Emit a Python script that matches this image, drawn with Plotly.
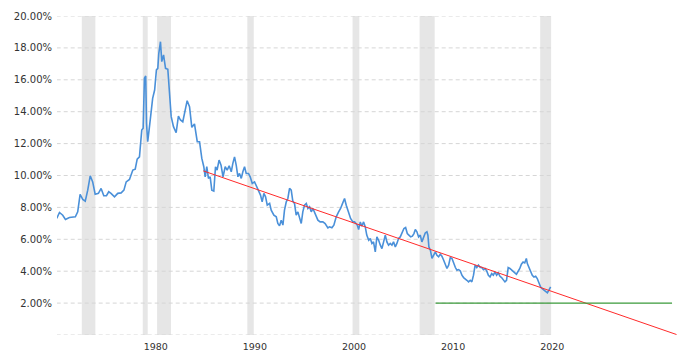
import plotly.graph_objects as go

# 30-year fixed mortgage rate (%), x in decimal years
years = [
    1971.32, 1971.6, 1971.93, 1972.2, 1972.6, 1973.2, 1973.44, 1973.68, 1973.95, 1974.2,
    1974.45, 1974.7, 1974.95, 1975.2, 1975.53, 1975.8, 1976.07, 1976.34, 1976.57, 1976.8,
    1977.15, 1977.48, 1977.82, 1978.1, 1978.33, 1978.66, 1979.0, 1979.24, 1979.44, 1979.67,
    1979.9, 1980.04, 1980.17, 1980.3, 1980.38, 1980.5, 1980.68, 1980.85, 1981.0, 1981.2,
    1981.38, 1981.52, 1981.62, 1981.79, 1981.92, 1982.1, 1982.3, 1982.53, 1982.7, 1982.87,
    1983.1, 1983.37, 1983.6, 1983.8, 1984.04, 1984.2, 1984.48, 1984.72, 1984.95, 1985.22,
    1985.5, 1985.73, 1985.96, 1986.16, 1986.3, 1986.46, 1986.63, 1986.8, 1986.97, 1987.17,
    1987.34, 1987.5, 1987.7, 1987.9, 1988.1, 1988.32, 1988.52, 1988.72, 1988.93, 1989.09,
    1989.26, 1989.43, 1989.6, 1989.76, 1989.94, 1990.1, 1990.27, 1990.44, 1990.67, 1990.84,
    1991.05, 1991.28, 1991.48, 1991.68, 1991.88, 1992.05, 1992.22, 1992.39, 1992.56, 1992.8,
    1992.96, 1993.23, 1993.47, 1993.63, 1993.8, 1993.97, 1994.14, 1994.3, 1994.48, 1994.64,
    1994.81, 1994.98, 1995.14, 1995.31, 1995.48, 1995.65, 1995.82, 1995.99, 1996.15, 1996.32,
    1996.5, 1996.66, 1996.83, 1997.0, 1997.17, 1997.33, 1997.5, 1997.67, 1997.9, 1998.17,
    1998.4, 1998.68, 1998.85, 1999.08, 1999.28, 1999.52, 1999.76, 1999.96, 2000.16, 2000.36,
    2000.53, 2000.77, 2000.97, 2001.2, 2001.37, 2001.64, 2001.78, 2001.95, 2002.1, 2002.28,
    2002.45, 2002.6, 2002.8, 2002.96, 2003.12, 2003.28, 2003.46, 2003.62, 2003.8, 2003.97,
    2004.13, 2004.3, 2004.47, 2004.63, 2004.8, 2004.97, 2005.14, 2005.3, 2005.48, 2005.64,
    2005.81, 2005.98, 2006.14, 2006.35, 2006.52, 2006.69, 2006.85, 2007.03, 2007.2, 2007.36,
    2007.5, 2007.66, 2007.83, 2008.0, 2008.16, 2008.34, 2008.5, 2008.67, 2008.77, 2008.87,
    2009.02, 2009.18, 2009.35, 2009.52, 2009.68, 2009.85, 2010.02, 2010.18, 2010.36, 2010.53,
    2010.69, 2010.86, 2011.03, 2011.2, 2011.37, 2011.54, 2011.7, 2011.87, 2012.04, 2012.2,
    2012.37, 2012.54, 2012.7, 2012.87, 2013.04, 2013.2, 2013.37, 2013.53, 2013.7, 2013.87,
    2014.04, 2014.2, 2014.37, 2014.54, 2014.7, 2014.87, 2015.04, 2015.2, 2015.37, 2015.54,
    2015.7, 2015.87, 2016.04, 2016.2, 2016.37, 2016.54, 2016.7, 2016.87, 2017.04, 2017.2,
    2017.37, 2017.54, 2017.7, 2017.87, 2018.04, 2018.2, 2018.37, 2018.54, 2018.7, 2018.8,
    2019.0, 2019.14, 2019.3, 2019.47, 2019.64, 2019.8, 2019.97, 2020.14, 2020.3, 2020.48,
    2020.65, 2020.82, 2020.98, 2021.15,
]
rates = [
    7.31, 7.68, 7.51, 7.24, 7.37, 7.41, 7.72, 8.81, 8.5, 8.39,
    9.08, 9.98, 9.6, 8.83, 8.88, 9.19, 8.73, 8.73, 8.98, 8.88,
    8.66, 8.88, 8.91, 9.08, 9.6, 9.75, 10.34, 10.4, 11.03, 11.17,
    12.85, 12.96, 16.1, 16.24, 13.27, 12.12, 13.06, 14.1, 14.84, 15.36,
    16.62, 16.72, 17.66, 18.39, 17.14, 17.56, 16.72, 16.66, 15.36, 13.69,
    13.06, 12.68, 13.73, 13.48, 13.37, 13.79, 14.69, 14.31, 13.02, 13.23,
    12.12, 12.12, 11.07, 10.55, 9.92, 10.55, 9.82, 9.92, 9.08, 9.02,
    10.55, 10.34, 10.97, 10.65, 9.92, 10.55, 10.34, 10.61, 10.23, 10.76,
    11.17, 10.65, 9.92, 10.13, 9.82, 10.23, 10.55, 10.13, 10.13, 9.92,
    9.5, 9.6, 9.29, 8.98, 8.77, 8.35, 8.88, 8.66, 8.14, 8.25,
    7.83, 7.51, 7.41, 6.99, 6.84, 7.2, 6.89, 7.83, 8.35, 8.56,
    9.19, 9.08, 8.39, 8.25, 7.51, 7.72, 7.41, 6.99, 7.72, 8.14,
    8.25, 7.93, 8.04, 7.72, 7.93, 7.72, 7.51, 7.2, 7.09, 7.09,
    6.99, 6.72, 6.78, 6.72, 6.89, 7.41, 7.72, 7.93, 8.25, 8.56,
    8.14, 7.72, 7.31, 7.09, 7.09, 6.89, 6.61, 7.09, 6.82, 7.09,
    6.78, 6.26, 5.94, 6.05, 5.74, 5.84, 5.21, 6.15, 5.94, 5.63,
    5.42, 5.84, 6.26, 5.84, 5.63, 5.74, 5.63, 5.84, 5.52, 5.74,
    6.05, 6.15, 6.36, 6.68, 6.74, 6.36, 6.26, 6.15, 6.2, 6.36,
    6.61, 6.47, 6.15, 6.26, 5.84, 6.15, 6.4, 6.47, 6.26, 5.52,
    5.32, 4.8, 5.0, 5.21, 5.0, 4.9, 5.07, 4.94, 4.69, 4.38,
    4.17, 4.38, 4.86, 4.8, 4.48, 4.23, 4.06, 4.1, 4.02, 3.75,
    3.6, 3.54, 3.43, 3.33, 3.43, 3.33, 3.75, 4.38, 4.23, 4.38,
    4.23, 4.23, 4.1, 4.17, 4.02, 3.75, 3.64, 3.85, 3.75, 3.96,
    3.75, 3.89, 3.68, 3.6, 3.43, 3.33, 3.43, 4.23, 4.17, 4.06,
    3.96, 3.89, 3.81, 3.96, 4.17, 4.44, 4.58, 4.52, 4.8, 4.48,
    4.17, 4.06, 3.75, 3.64, 3.68, 3.54, 3.23, 3.01, 2.91, 2.81,
    2.7, 2.64, 2.81, 3.01,
]

# recession periods (start, end) in decimal years
recession_start = [1973.85, 1980.0, 1981.45, 1990.55, 2001.17, 2007.93, 2020.1]
recession_end = [1975.22, 1980.5, 1982.85, 1991.2, 2001.85, 2009.45, 2021.2]

# trend line and 2% reference line
trend_x = [1986.1, 2033.85]
trend_y = [10.29, 0.03]
ref_x = [2009.55, 2033.4]
ref_y = [2.0, 2.0]

y_ticks = [2, 4, 6, 8, 10, 12, 14, 16, 18, 20]
y_labels = [f"{v:.2f}%" for v in y_ticks]
x_ticks = [1980, 1990, 2000, 2010, 2020]
x_labels = [str(v) for v in x_ticks]

grid_x0, grid_x1 = years[0], 2021.2

fig = go.Figure()

shapes = []
for s, e in zip(recession_start, recession_end):
    shapes.append(dict(type="rect", xref="x", yref="y", x0=s, x1=e, y0=0, y1=20,
                       fillcolor="#e6e6e6", line=dict(width=0), layer="below"))
for v in [0] + y_ticks:
    shapes.append(dict(type="line", xref="x", yref="y", x0=grid_x0, x1=grid_x1, y0=v, y1=v,
                       line=dict(color="#d6d6d6", width=1, dash="4px,3px"), layer="below"))

fig.add_trace(go.Scatter(x=years, y=rates, mode="lines",
                         line=dict(color="#4a90d9", width=1.6), hoverinfo="skip"))
fig.add_trace(go.Scatter(x=trend_x, y=trend_y, mode="lines",
                         line=dict(color="#ff2a2a", width=1), hoverinfo="skip"))
fig.add_trace(go.Scatter(x=ref_x, y=ref_y, mode="lines",
                         line=dict(color="#3a9a3a", width=1.2), hoverinfo="skip"))

fig.update_layout(
    width=698, height=355,
    margin=dict(l=57, r=20, t=16, b=20),
    paper_bgcolor="white", plot_bgcolor="white",
    showlegend=False,
    shapes=shapes,
    font=dict(family="DejaVu Sans", color="#333333"),
    xaxis=dict(range=[1971.35, 2034.0], showgrid=False, zeroline=False, showline=False,
               tickvals=x_ticks, ticktext=x_labels, ticks="", tickfont=dict(size=9.5),
               ticklabelshift=13, ticklabelstandoff=4, automargin=False),
    yaxis=dict(range=[0, 20], showgrid=False, zeroline=False, showline=False,
               tickvals=y_ticks, ticktext=y_labels, ticks="", tickfont=dict(size=10),
               ticklabelstandoff=4, automargin=False),
)

fig.write_html("out.html")
